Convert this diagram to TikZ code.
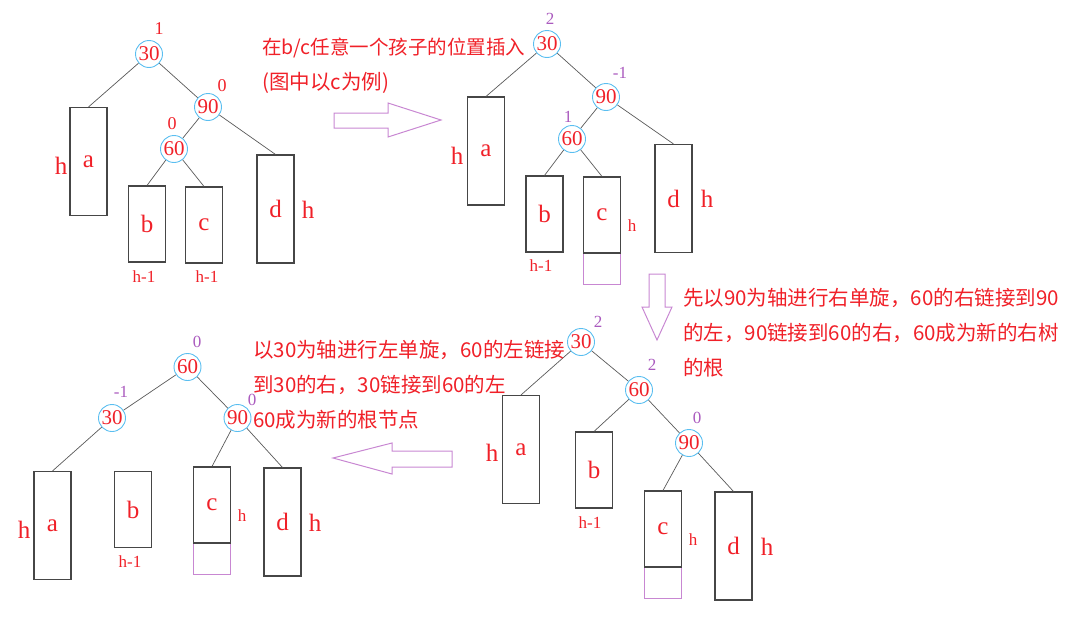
\documentclass[tikz,border=0pt]{standalone}
\usepackage{fontspec}
\setmainfont{Liberation Serif}
\newfontfamily\cjk{Noto Sans CJK SC}
\definecolor{txtred}{RGB}{240,32,40}
\definecolor{ringblue}{RGB}{90,190,240}
\definecolor{bfpurple}{RGB}{170,90,190}
\definecolor{lilac}{RGB}{200,135,210}
\definecolor{boxgray}{RGB}{70,70,70}
\tikzset{
  keynode/.style = {shape=circle, draw=ringblue, line width=0.9pt,
                    inner sep=0pt, minimum size=27pt, text=txtred,
                    font=\fontsize{21}{21}\selectfont},
  bf/.style      = {text=txtred, inner sep=0pt, font=\fontsize{18}{18}\selectfont},
  bfp/.style     = {bf, text=bfpurple, font=\fontsize{17}{17}\selectfont},
  subtree/.style = {shape=rectangle, draw=boxgray, line width=1.1pt,
                    inner sep=0pt, minimum width=37pt, text=txtred,
                    font=\fontsize{25}{25}\selectfont},
  tall/.style    = {subtree, minimum height=108pt},
  short/.style   = {subtree, minimum height=76pt},
  grown/.style   = {shape=rectangle, draw=lilac, line width=0.9pt,
                    minimum width=37pt, minimum height=31pt, inner sep=0pt},
  ht/.style      = {text=txtred, inner sep=0pt, font=\fontsize{25}{25}\selectfont},
  hsmall/.style  = {text=txtred, inner sep=0pt, font=\fontsize{17}{17}\selectfont},
  note/.style    = {text=txtred, anchor=west, inner sep=0pt,
                    font=\cjk\fontsize{20.5}{20.5}\selectfont},
  bigarrow/.style = {draw=lilac, line width=1pt},
  branch/.style  = {draw=gray!70!black, line width=0.7pt}
}

\begin{document}
\begin{tikzpicture}[x=1pt,y=-1pt]
  \useasboundingbox (0,0) rectangle (1090,616);

  % insert below b or c
  \node[keynode] (t1k30) at (149,54) {30};
  \node[bf] (t1b30) at (159,29) {1};
  \node[keynode] (t1k90) at (208,107) {90};
  \node[bf] (t1b90) at (222,86) {0};
  \node[keynode] (t1k60) at (174,149) {60};
  \node[bf] (t1b60) at (172,124) {0};
  \node[tall] (t1a) at (88.5,161.5) {a};
  \node[short] (t1b) at (147,224) {b};
  \node[short] (t1c) at (204,225) {c};
  \node[tall] (t1d) at (275.5,209) {d};
  \node[ht] (t1ha) at (61,166) {h};
  \node[ht] (t1hd) at (308,210) {h};
  \node[hsmall] (t1hb) at (144,277) {h-1};
  \node[hsmall] (t1hc) at (207,277) {h-1};
  \draw[branch] (t1k30) -- (t1a.north);
  \draw[branch] (t1k30) -- (t1k90);
  \draw[branch] (t1k90) -- (t1k60);
  \draw[branch] (t1k90) -- (t1d.north);
  \draw[branch] (t1k60) -- (t1b.north);
  \draw[branch] (t1k60) -- (t1c.north);

  \node[note, font=\cjk\fontsize{19.5}{19.5}\selectfont] (n1a) at (262,48) {在b/c任意一个孩子的位置插入};
  \node[note] (n1b) at (262,83) {(图中以c为例)};
  \draw[bigarrow] (334,113) -- (388,113) -- (388,103) -- (441,120)
    -- (388,137) -- (388,128) -- (334,128) -- cycle;

  % after the insertion
  \node[keynode] (t2k30) at (547,44) {30};
  \node[bfp] (t2b30) at (550,19) {2};
  \node[keynode] (t2k90) at (606,97) {90};
  \node[bfp] (t2b90) at (620,73) {-1};
  \node[keynode] (t2k60) at (572,139) {60};
  \node[bfp] (t2b60) at (568,117) {1};
  \node[tall] (t2a) at (486,151) {a};
  \node[short] (t2b) at (544.5,214) {b};
  \node[grown] (t2g) at (602,268.5) {};
  \node[short] (t2c) at (602,215) {c};
  \node[tall] (t2d) at (673.5,198.5) {d};
  \node[ht] (t2ha) at (457,156) {h};
  \node[hsmall] (t2hc) at (632,226) {h};
  \node[hsmall] (t2hb) at (541,266) {h-1};
  \node[ht] (t2hd) at (707,199) {h};
  \draw[branch] (t2k30) -- (t2a.north);
  \draw[branch] (t2k30) -- (t2k90);
  \draw[branch] (t2k90) -- (t2k60);
  \draw[branch] (t2k90) -- (t2d.north);
  \draw[branch] (t2k60) -- (t2b.north);
  \draw[branch] (t2k60) -- (t2c.north);

  \draw[bigarrow] (649,274) -- (665,274) -- (665,307) -- (672,307)
    -- (657,340) -- (642,307) -- (649,307) -- cycle;
  \node[note] (n2a) at (683,298) {先以90为轴进行右单旋，60的右链接到90};
  \node[note] (n2b) at (683,333) {的左，90链接到60的右，60成为新的右树};
  \node[note] (n2c) at (683,368) {的根};

  % right rotation about 90
  \node[keynode] (t3k30) at (581,342) {30};
  \node[bfp] (t3b30) at (598,322) {2};
  \node[keynode] (t3k60) at (639,390) {60};
  \node[bfp] (t3b60) at (652,365) {2};
  \node[keynode] (t3k90) at (689,443) {90};
  \node[bfp] (t3b90) at (697,418) {0};
  \node[tall] (t3a) at (521,449.5) {a};
  \node[short] (t3b) at (594,470) {b};
  \node[grown] (t3g) at (663,582.5) {};
  \node[short] (t3c) at (663,529) {c};
  \node[tall] (t3d) at (733.5,546) {d};
  \node[ht] (t3ha) at (492,453) {h};
  \node[hsmall] (t3hb) at (590,523) {h-1};
  \node[hsmall] (t3hc) at (693,540) {h};
  \node[ht] (t3hd) at (767,547) {h};
  \draw[branch] (t3k30) -- (t3a.north);
  \draw[branch] (t3k30) -- (t3k60);
  \draw[branch] (t3k60) -- (t3b.north);
  \draw[branch] (t3k60) -- (t3k90);
  \draw[branch] (t3k90) -- (t3c.north);
  \draw[branch] (t3k90) -- (t3d.north);

  \draw[bigarrow] (452,451) -- (392,451) -- (392,443) -- (333,458)
    -- (392,474) -- (392,467) -- (452,467) -- cycle;
  \node[note] (n3a) at (253,350) {以30为轴进行左单旋，60的左链接};
  \node[note] (n3b) at (253,385) {到30的右，30链接到60的左};
  \node[note] (n3c) at (253,420) {60成为新的根节点};

  % left rotation about 30
  \node[keynode] (t4k60) at (187.5,367) {60};
  \node[bfp] (t4b60) at (197,342) {0};
  \node[keynode] (t4k30) at (112,418) {30};
  \node[bfp] (t4b30) at (121,392) {-1};
  \node[keynode] (t4k90) at (237.5,418) {90};
  \node[bfp] (t4b90) at (252,400) {0};
  \node[tall] (t4a) at (52.5,525.5) {a};
  \node[short] (t4b) at (133,509.5) {b};
  \node[grown] (t4g) at (212,558.5) {};
  \node[short] (t4c) at (212,505) {c};
  \node[tall] (t4d) at (282.5,522) {d};
  \node[ht] (t4ha) at (24,530) {h};
  \node[hsmall] (t4hb) at (130,562) {h-1};
  \node[hsmall] (t4hc) at (242,516) {h};
  \node[ht] (t4hd) at (315,523) {h};
  \draw[branch] (t4k60) -- (t4k30);
  \draw[branch] (t4k60) -- (t4k90);
  \draw[branch] (t4k30) -- (t4a.north);
  \draw[branch] (t4k90) -- (t4c.north);
  \draw[branch] (t4k90) -- (t4d.north);
\end{tikzpicture}
\end{document}
